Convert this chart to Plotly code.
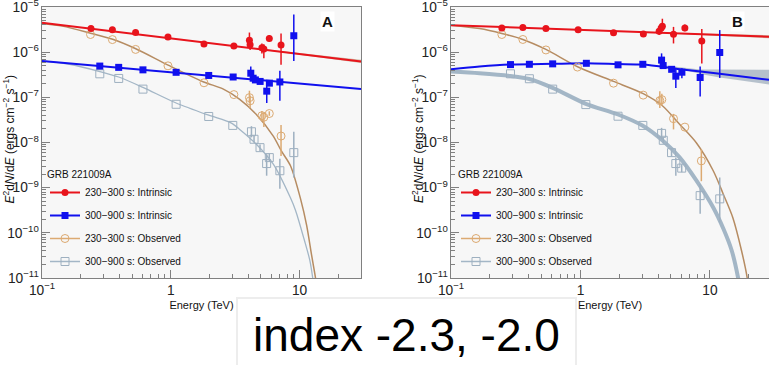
import plotly.graph_objects as go

# ---------------- Panel A data ----------------
redA_E = [0.240, 0.352, 0.533, 0.951, 1.81, 3.09, 4.08, 4.13, 5.10, 5.28, 5.82, 7.18]
redA_F = [3.33e-6, 3.15e-6, 2.71e-6, 2.16e-6, 1.52e-6, 1.37e-6, 1.84e-6, 1.46e-6, 1.26e-6, 1.18e-6, 2.01e-6, 1.44e-6]
redA_hi = [None] * 6 + [2.72e-6, 1.9e-6, 1.56e-6, 1.49e-6, 2.39e-6, 2.59e-6]
redA_lo = [None] * 6 + [1.4e-6, 1.12e-6, 0.94e-6, 0.73e-6, 1.70e-6, 5.24e-7]

blueA_E = [0.281, 0.394, 0.608, 1.10, 1.97, 3.05, 4.18, 4.36, 4.54, 4.94, 5.56, 5.83, 7.03, 9.02]
blueA_F = [4.92e-7, 4.61e-7, 4.06e-7, 3.58e-7, 3.05e-7, 2.82e-7, 3.42e-7, 2.65e-7, 2.43e-7, 2.25e-7, 1.37e-7, 2.06e-7, 2.19e-7, 2.31e-6]
blueA_hi = [None] * 6 + [4.80e-7, 3.2e-7, 2.8e-7, 2.5e-7, 2.06e-7, 2.3e-7, 3.86e-7, 6.78e-6]
blueA_lo = [None] * 6 + [2.6e-7, 2.2e-7, 2.1e-7, 2.0e-7, 7.5e-8, 1.85e-7, 8.45e-8, 6.41e-7]

orangeA_E = [0.238, 0.352, 0.533, 0.951, 1.81, 3.09, 4.08, 4.13, 5.10, 5.28, 5.82, 7.18]
orangeA_F = [2.46e-6, 1.90e-6, 1.15e-6, 4.98e-7, 2.10e-7, 1.15e-7, 9.85e-8, 8.38e-8, 3.92e-8, 3.63e-8, 4.38e-8, 1.39e-8]
orangeA_hi = [None] * 6 + [1.40e-7, 1.1e-7, 5.0e-8, 4.6e-8, 4.9e-8, 2.43e-8]
orangeA_lo = [None] * 6 + [7.5e-8, 5.82e-8, 2.9e-8, 2.2e-8, 3.9e-8, 5.05e-9]

grayA_E = [0.281, 0.394, 0.608, 1.10, 1.97, 3.03, 4.23, 4.43, 4.93, 5.82, 5.55, 7.03, 9.02]
grayA_F = [3.32e-7, 2.62e-7, 1.52e-7, 7.02e-8, 3.77e-8, 2.39e-8, 1.73e-8, 1.18e-8, 7.69e-9, 4.63e-9, 3.42e-9, 2.37e-9, 5.97e-9]
grayA_hi = [None] * 6 + [2.3e-8, 1.4e-8, 9.0e-9, 5.6e-9, 5.5e-9, 4.34e-9, 1.73e-8]
grayA_lo = [None] * 6 + [1.3e-8, 1.0e-8, 6.4e-9, 3.8e-9, 1.84e-9, 9.5e-10, 1.68e-9]

redA_line_E = [0.1, 30.0]
redA_line_F = [4.5e-6, 6.2e-7]
redA_band_E = [3.0, 10.0, 30.0]
redA_band_hi = [1.39e-6, 9.46e-7, 6.76e-7]
redA_band_lo = [1.39e-6, 8.83e-7, 5.76e-7]
blueA_line_E = [0.1, 30.0]
blueA_line_F = [6.4e-7, 1.53e-7]

brownA_E = [0.1, 0.154, 0.238, 0.354, 0.535, 0.954, 1.80, 2.54, 3.43, 4.60, 6.25, 7.22, 8.50, 10.2, 11.35, 12.4, 13.3, 13.9]
brownA_F = [4.30e-6, 3.63e-6, 2.62e-6, 1.93e-6, 1.19e-6, 5.18e-7, 2.19e-7, 1.54e-7, 9.04e-8, 4.23e-8, 1.39e-8, 6.5e-9, 3.05e-9, 5.5e-10, 1.46e-10, 3.2e-11, 1e-11, 3.4e-12]
grayA_cE = [0.1, 0.163, 0.281, 0.394, 0.608, 1.10, 1.97, 2.93, 3.43, 4.62, 6.25, 8.46, 9.31, 10.9, 12.0, 12.65, 13.1]
grayA_cF = [6.41e-7, 5.4e-7, 3.73e-7, 2.82e-7, 1.66e-7, 7.50e-8, 4.02e-8, 2.72e-8, 1.95e-8, 9.12e-9, 3.32e-9, 6.12e-10, 3.13e-10, 6.84e-11, 2.49e-11, 1e-11, 4.2e-12]

# ---------------- Panel B data ----------------
redB_E = [0.247, 0.359, 0.541, 0.959, 1.80, 3.06, 4.05, 4.20, 4.29, 5.23, 6.40, 8.65]
redB_F = [3.45e-6, 3.51e-6, 3.33e-6, 3.14e-6, 2.68e-6, 2.51e-6, 2.90e-6, 3.45e-6, 3.73e-6, 2.49e-6, 3.45e-6, 1.76e-6]
redB_hi = [None] * 6 + [3.3e-6, 4.2e-6, 5.5e-6, 3.63e-6, 4.08e-6, 3.24e-6]
redB_lo = [None] * 6 + [2.4e-6, 2.9e-6, 3.0e-6, 1.56e-6, 2.92e-6, 5.6e-7]

blueB_E = [0.288, 0.403, 0.610, 1.11, 1.95, 3.03, 4.23, 4.35, 5.06, 5.45, 6.07, 8.40, 11.9]
blueB_F = [5.31e-7, 5.39e-7, 5.51e-7, 5.67e-7, 5.24e-7, 5.39e-7, 6.67e-7, 5.05e-7, 4.17e-7, 2.94e-7, 3.60e-7, 2.75e-7, 9.84e-7]
blueB_hi = [None] * 6 + [9.4e-7, 5.8e-7, 4.6e-7, 4.41e-7, 4.41e-7, 4.80e-7, 3.08e-6]
blueB_lo = [None] * 6 + [4.23e-7, 4.4e-7, 3.7e-7, 1.60e-7, 2.63e-7, 1.05e-7, 2.69e-7]

orangeB_E = [0.247, 0.359, 0.541, 0.948, 1.80, 3.05, 4.10, 4.25, 5.23, 6.40, 8.58]
orangeB_F = [2.46e-6, 1.91e-6, 1.12e-6, 4.68e-7, 2.06e-7, 1.12e-7, 8.46e-8, 8.89e-8, 3.37e-8, 2.19e-8, 3.92e-9]
orangeB_hi = [None] * 6 + [1.36e-7, 1.2e-7, 4.3e-8, None, 7.1e-9]
orangeB_lo = [None] * 6 + [5.82e-8, 6.5e-8, 1.95e-8, None, 1.39e-9]

grayB_E = [0.288, 0.403, 0.610, 1.10, 1.95, 3.03, 4.23, 4.36, 5.05, 5.45, 6.05, 8.40, 11.9]
grayB_F = [3.32e-7, 2.58e-7, 1.52e-7, 6.91e-8, 3.82e-8, 2.39e-8, 1.59e-8, 1.12e-8, 5.97e-9, 3.42e-9, 2.71e-9, 6.67e-10, 5.65e-10]
grayB_hi = [None] * 6 + [2.11e-8, 1.3e-8, 7.2e-9, 4.63e-9, 3.3e-9, 1.2e-9, 1.68e-9]
grayB_lo = [None] * 6 + [1.18e-8, 9.5e-9, 4.9e-9, 1.84e-9, 2.2e-9, 2.64e-10, 1.66e-10]

redB_line_E = [0.1, 30.0]
redB_line_F = [3.96e-6, 2.18e-6]
redB_band_E = [3.0, 8.4, 30.0]
redB_band_hi = [2.77e-6, 2.58e-6, 2.37e-6]
redB_band_lo = [2.77e-6, 2.40e-6, 2.02e-6]
blueB_cE = [0.1, 0.166, 0.288, 0.610, 1.11, 1.94, 3.03, 5.85, 11.9, 28.6]
blueB_cF = [4.19e-7, 4.80e-7, 5.31e-7, 5.51e-7, 5.65e-7, 5.45e-7, 5.31e-7, 4.2e-7, 3.32e-7, 2.45e-7]
blueB_band_E = [4.5, 6.0, 8.4, 11.9, 18.0, 28.6]
blueB_band_hi = [5.05e-7, 4.56e-7, 4.12e-7, 4.12e-7, 4.12e-7, 4.06e-7]
blueB_band_lo = [4.80e-7, 4.23e-7, 3.28e-7, 2.75e-7, 2.31e-7, 1.93e-7]

brownB_E = [0.1, 0.166, 0.247, 0.359, 0.541, 0.968, 1.80, 3.05, 4.25, 5.85, 7.87, 10.6, 12.65, 15.0, 17.5, 19.4, 20.0]
brownB_F = [3.96e-6, 3.33e-6, 2.59e-6, 1.91e-6, 1.15e-6, 4.63e-7, 2.25e-7, 1.21e-7, 6.67e-8, 2.51e-8, 9.75e-9, 2.37e-9, 7.27e-10, 2.19e-10, 4.12e-11, 1e-11, 4.2e-12]
grayB_cE = [0.1, 0.166, 0.288, 0.403, 0.610, 1.10, 1.95, 3.01, 4.35, 5.85, 7.87, 10.6, 12.65, 14.7, 16.5, 17.3]
grayB_cF = [3.73e-7, 3.42e-7, 2.97e-7, 2.55e-7, 1.62e-7, 7.20e-8, 4.17e-8, 2.37e-8, 1.08e-8, 4.63e-9, 1.43e-9, 3.63e-10, 1.26e-10, 4.12e-11, 1e-11, 4.2e-12]

legend_names = ["230\u2212300 s: Intrinsic", "300\u2212900 s: Intrinsic",
                "230\u2212300 s: Observed", "300\u2212900 s: Observed"]
panel_labels = ["A", "B"]
legend_title = "GRB 221009A"
x_title = "Energy (TeV)"
y_title = "<i>E</i><sup>2</sup>d<i>N</i>/d<i>E</i> (ergs cm<sup>\u22122</sup> s<sup>\u22121</sup>)"
note_text = "index -2.3, -2.0"

# ---------------- style ----------------
RED = "#e8141c"
BLUE = "#1010ee"
ORANGE = "#dcaa72"
BROWN = "#b68c62"
GRAY = "#a3b6c6"
GRAYPT = "#9eb0c0"
TAN = "rgba(175,135,95,0.55)"
BANDGRAY = "rgba(130,150,170,0.55)"
FONT = "Liberation Sans, Arial, sans-serif"

fig = go.Figure()


def errs(F, hi, lo):
    ep = [(h - f) if h is not None else 0 for f, h in zip(F, hi)]
    em = [(f - l) if l is not None else 0 for f, l in zip(F, lo)]
    return ep, em


def add_points(E, F, hi, lo, color, symbol, xa, ya, size=7, lw=0):
    ep, em = errs(F, hi, lo)
    fig.add_trace(go.Scatter(
        x=E, y=F, mode="markers", xaxis=xa, yaxis=ya, showlegend=False,
        marker=dict(symbol=symbol, size=size, color=color, line=dict(color=color, width=lw)),
        error_y=dict(type="data", symmetric=False, array=ep, arrayminus=em,
                     color=color, thickness=1.5, width=0)))


def add_curve(E, F, color, width, xa, ya, shape="spline"):
    fig.add_trace(go.Scatter(x=E, y=F, mode="lines", xaxis=xa, yaxis=ya, showlegend=False,
                             line=dict(color=color, width=width, shape=shape, smoothing=0.8),
                             hoverinfo="skip"))


def add_band(E, hi, lo, color, xa, ya):
    fig.add_trace(go.Scatter(x=list(E) + list(E)[::-1], y=list(hi) + list(lo)[::-1],
                             mode="lines", fill="toself", fillcolor=color,
                             line=dict(width=0, color=color), xaxis=xa, yaxis=ya,
                             showlegend=False, hoverinfo="skip"))


# Panel A
add_band(redA_band_E, redA_band_hi, redA_band_lo, TAN, "x", "y")
add_curve(grayA_cE, grayA_cF, GRAY, 1.3, "x", "y")
add_curve(brownA_E, brownA_F, BROWN, 1.5, "x", "y")
add_curve(redA_line_E, redA_line_F, RED, 2, "x", "y", shape="linear")
add_curve(blueA_line_E, blueA_line_F, BLUE, 2, "x", "y", shape="linear")
add_points(grayA_E, grayA_F, grayA_hi, grayA_lo, GRAYPT, "square-open", "x", "y", 8, 1)
add_points(orangeA_E, orangeA_F, orangeA_hi, orangeA_lo, ORANGE, "circle-open", "x", "y", 8, 1)
add_points(blueA_E, blueA_F, blueA_hi, blueA_lo, BLUE, "square", "x", "y", 7)
add_points(redA_E, redA_F, redA_hi, redA_lo, RED, "circle", "x", "y", 7)

# Panel B
add_curve(grayB_cE, grayB_cF, GRAY, 4, "x2", "y2")
add_curve(brownB_E, brownB_F, BROWN, 1.5, "x2", "y2")
add_band(redB_band_E, redB_band_hi, redB_band_lo, TAN, "x2", "y2")
add_band(blueB_band_E, blueB_band_hi, blueB_band_lo, BANDGRAY, "x2", "y2")
add_curve(redB_line_E, redB_line_F, RED, 2, "x2", "y2", shape="linear")
add_curve(blueB_cE, blueB_cF, BLUE, 2, "x2", "y2")
add_points(grayB_E, grayB_F, grayB_hi, grayB_lo, GRAYPT, "square-open", "x2", "y2", 8, 1)
add_points(orangeB_E, orangeB_F, orangeB_hi, orangeB_lo, ORANGE, "circle-open", "x2", "y2", 8, 1)
add_points(blueB_E, blueB_F, blueB_hi, blueB_lo, BLUE, "square", "x2", "y2", 7)
add_points(redB_E, redB_F, redB_hi, redB_lo, RED, "circle", "x2", "y2", 7)

# legend-only entries
leg_styles = [(RED, "circle", 7), (BLUE, "square", 7), (ORANGE, "circle-open", 8), (GRAYPT, "square-open", 8)]
leg_lines = [RED, BLUE, ORANGE, GRAY]
for lg, xa, ya in [("legend", "x", "y"), ("legend2", "x2", "y2")]:
    for i, name in enumerate(legend_names):
        c, sym, sz = leg_styles[i]
        fig.add_trace(go.Scatter(x=[None], y=[None], mode="lines+markers", name=name,
                                 xaxis=xa, yaxis=ya, legend=lg, legendgroup=lg + str(i),
                                 line=dict(color=leg_lines[i], width=2 if i < 2 else 1.5),
                                 marker=dict(symbol=sym, size=sz, color=c, line=dict(color=c, width=1 if i > 1 else 0))))

W, H = 769, 365
xA0, xA1 = 42, 361
xB0 = 451
yT, yB = 7, 278

axis_common = dict(type="log", showline=True, linecolor="#808080", linewidth=1,
                   ticks="inside", ticklen=8, tickcolor="#808080", tickwidth=1,
                   dtick=1, exponentformat="power", showgrid=False, zeroline=False,
                   automargin=False, ticklabeloverflow="allow",
                   minor=dict(ticks="inside", ticklen=4, tickcolor="#808080", showgrid=False),
                   tickfont=dict(size=11, color="#222"))

yrange = [-11, -5]

fig.update_layout(
    width=W, height=H, margin=dict(l=0, r=0, t=0, b=0, autoexpand=False),
    paper_bgcolor="white", plot_bgcolor="#f7f7f7",
    font=dict(family=FONT, color="#111"),
    xaxis=dict(axis_common, domain=[xA0 / W, xA1 / W], range=[-1, 1.477], mirror=True,
               anchor="y", title=dict(text=x_title, font=dict(size=11), standoff=4)),
    yaxis=dict(axis_common, domain=[1 - yB / H, 1 - yT / H], range=yrange, mirror=True, anchor="x"),
    xaxis2=dict(axis_common, domain=[xB0 / W, 1.0], range=[-1, 1.456], mirror=True,
                anchor="y2", title=dict(text=x_title, font=dict(size=11), standoff=4)),
    yaxis2=dict(axis_common, domain=[1 - yB / H, 1 - yT / H], range=yrange, mirror=False, anchor="x2"),
    legend=dict(title=dict(text=legend_title, font=dict(size=10)), x=45 / W, y=1 - 165 / H,
                xanchor="left", yanchor="top", bgcolor="rgba(0,0,0,0)", font=dict(size=10),
                tracegroupgap=4, traceorder="grouped"),
    legend2=dict(title=dict(text=legend_title, font=dict(size=10)), x=(45 + 411) / W, y=1 - 165 / H,
                 xanchor="left", yanchor="top", bgcolor="rgba(0,0,0,0)", font=dict(size=10),
                 tracegroupgap=4, traceorder="grouped"),
    showlegend=True,
)

# y-axis titles
for px in [8.5, 418]:
    fig.add_annotation(x=px / W, y=1 - 139 / H, xref="paper", yref="paper", text=y_title,
                       textangle=-90, showarrow=False, font=dict(size=12, color="#111"),
                       xanchor="center", yanchor="middle")

# panel labels
for lab, px in zip(panel_labels, [327, 737]):
    fig.add_annotation(x=px / W, y=1 - 22 / H, xref="paper", yref="paper", text="<b>" + lab + "</b>",
                       showarrow=False, font=dict(size=15, color="#111"), bgcolor="white",
                       xanchor="center", yanchor="middle")

# bottom note box
fig.add_shape(type="rect", xref="paper", yref="paper", x0=236 / W, x1=577 / W, y0=-0.1, y1=1 - 297 / H,
              fillcolor="rgba(0,0,0,0.07)", line=dict(width=0), layer="above")
fig.add_shape(type="rect", xref="paper", yref="paper", x0=238 / W, x1=575 / W, y0=-0.1, y1=1 - 299 / H,
              fillcolor="white", line=dict(width=0), layer="above")
fig.add_annotation(x=406 / W, y=1 - 335 / H, xref="paper", yref="paper", text=note_text,
                   showarrow=False, font=dict(size=46, color="black", family=FONT),
                   xanchor="center", yanchor="middle")

fig.write_html("out.html", config={"displayModeBar": False},
               post_script="document.body.style.margin='0';document.body.style.overflow='hidden';")
